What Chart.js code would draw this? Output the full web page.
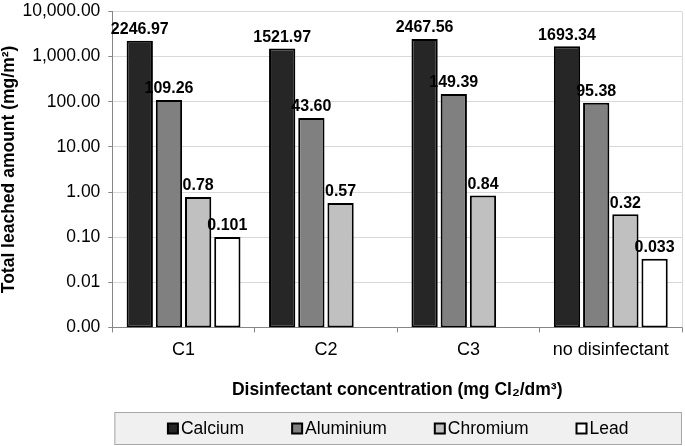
<!DOCTYPE html>
<html>
<head>
<meta charset="utf-8">
<script src="https://cdn.jsdelivr.net/npm/chart.js@4"></script>
<style>
  html, body { margin: 0; padding: 0; background: #fff; }
  #wrap { width: 685px; height: 446px; position: relative; }
</style>
</head>
<body>
<div id="wrap"><canvas id="leachChart"></canvas></div>
<script>
// ---- data ----
const categories = ["C1", "C2", "C3", "no disinfectant"];
const seriesNames = ["Calcium", "Aluminium", "Chromium", "Lead"];
const calcium = [2246.97, 1521.97, 2467.56, 1693.34];
const aluminium = [109.26, 43.60, 149.39, 95.38];
const chromium = [0.78, 0.57, 0.84, 0.32];
const lead = [0.101, null, null, 0.033];
const labelDecimals = [2, 2, 2, 3];
const yTicks = [0.001, 0.01, 0.1, 1, 10, 100, 1000, 10000];

const FONT = "'Liberation Sans', Arial, 'DejaVu Sans', sans-serif";
const fills = ["#262626", "#808080", "#c0c0c0", "#ffffff"];
const seriesValues = [calcium, aluminium, chromium, lead];

// value labels above each bar
const barLabels = {
  id: "barLabels",
  afterDatasetsDraw(chart) {
    const ctx = chart.ctx;
    ctx.save();
    ctx.font = "bold 16px " + FONT;
    ctx.fillStyle = "#000";
    ctx.textAlign = "center";
    ctx.textBaseline = "bottom";
    chart.data.datasets.forEach((ds, i) => {
      chart.getDatasetMeta(i).data.forEach((bar, j) => {
        const v = ds.data[j];
        if (v === null || v === undefined) return;
        ctx.fillText(v.toFixed(labelDecimals[i]), bar.x, bar.y - 3);
      });
    });
    ctx.restore();
  }
};

// right border of plot area + boxed legend at the bottom
const frameAndLegend = {
  id: "frameAndLegend",
  afterDraw(chart) {
    const { ctx, chartArea } = chart;
    ctx.save();
    ctx.strokeStyle = "#d9d9d9";
    ctx.lineWidth = 1;
    ctx.beginPath();
    ctx.moveTo(chartArea.right + 0.5, chartArea.top);
    ctx.lineTo(chartArea.right + 0.5, chartArea.bottom);
    ctx.stroke();

    // legend box
    const bx = chartArea.left + 2, by = 412, bw = chartArea.right - bx, bh = 33;
    ctx.fillStyle = "#f0f0f0";
    ctx.fillRect(bx, by, bw, bh);
    ctx.strokeStyle = "#a6a6a6";
    ctx.strokeRect(bx + 0.5, by + 0.5, bw - 1, bh - 1);

    ctx.font = "17.5px " + FONT;
    const box = 10, gapBox = 3, gapItem = 48;
    const widths = seriesNames.map(n => ctx.measureText(n).width);
    const total = widths.reduce((a, b) => a + b, 0) + seriesNames.length * (box + gapBox) + gapItem * (seriesNames.length - 1);
    let x = bx + (bw - total) / 2;
    const cy = by + bh / 2;
    ctx.textBaseline = "middle";
    ctx.textAlign = "left";
    seriesNames.forEach((name, i) => {
      ctx.fillStyle = fills[i];
      ctx.fillRect(x, cy - box / 2, box, box);
      ctx.strokeStyle = "#000";
      ctx.lineWidth = 2;
      ctx.strokeRect(x, cy - box / 2, box, box);
      ctx.fillStyle = "#000";
      ctx.fillText(name, x + box + gapBox, cy + 1);
      x += box + gapBox + widths[i] + gapItem;
    });
    ctx.restore();
  }
};

const ctx = document.getElementById("leachChart").getContext("2d");
new Chart(ctx, {
  type: "bar",
  data: {
    labels: categories,
    datasets: seriesNames.map((name, i) => ({
      label: name,
      data: seriesValues[i],
      backgroundColor: fills[i],
      borderColor: "#000",
      borderWidth: 2,
      borderSkipped: false,
      categoryPercentage: 0.82,
      barPercentage: 0.9
    }))
  },
  options: {
    responsive: true,
    maintainAspectRatio: false,
    animation: false,
    layout: { padding: { top: 0, right: 3, bottom: 45, left: 0 } },
    plugins: {
      legend: { display: false },
      tooltip: { enabled: false }
    },
    scales: {
      x: {
        grid: { offset: true, drawOnChartArea: false, color: "#868686", tickLength: 5 },
        border: { color: "#868686" },
        ticks: { color: "#000", font: { family: FONT, size: 18 }, padding: 7 },
        title: {
          display: true,
          text: "Disinfectant concentration (mg Cl\u2082/dm\u00b3)",
          color: "#000",
          font: { family: FONT, size: 17.5, weight: "bold" },
          padding: { top: 12, bottom: 0 }
        }
      },
      y: {
        type: "logarithmic",
        min: yTicks[0],
        max: yTicks[yTicks.length - 1],
        afterBuildTicks: axis => { axis.ticks = yTicks.map(v => ({ value: v })); },
        grid: { color: "#d9d9d9", tickColor: "#868686", tickLength: 4 },
        border: { color: "#868686" },
        ticks: {
          color: "#000",
          font: { family: FONT, size: 17.5, lineHeight: 0.4 },
          padding: 8,
          callback: v => Number(v).toLocaleString("en-US", { minimumFractionDigits: 2, maximumFractionDigits: 2 })
        },
        title: {
          display: true,
          text: "Total leached amount (mg/m\u00b2)",
          color: "#000",
          font: { family: FONT, size: 17.5, weight: "bold", lineHeight: 1 },
          padding: { top: 0, bottom: -3 }
        }
      }
    }
  },
  plugins: [barLabels, frameAndLegend]
});
</script>
</body>
</html>
